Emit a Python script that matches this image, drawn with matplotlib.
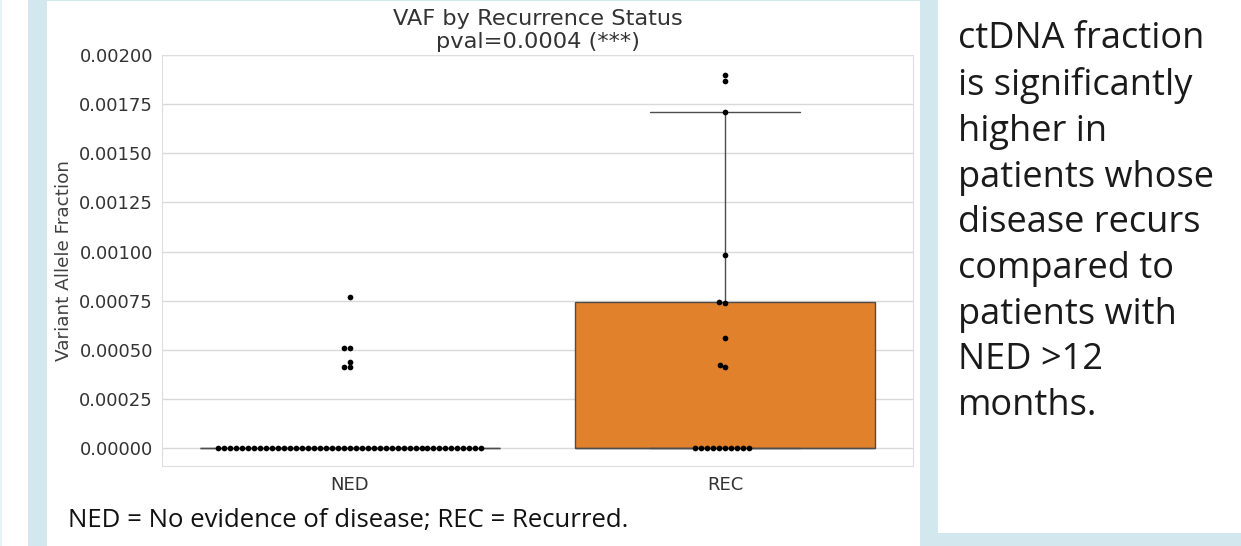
import matplotlib
matplotlib.use("Agg")
import matplotlib.pyplot as plt
from matplotlib.patches import Rectangle
from matplotlib.ticker import FormatStrFormatter, MultipleLocator
import numpy as np
import pandas as pd
import seaborn as sns

# values
groups = ["NED", "REC"]
ned_vaf = [
    0.0, 0.0, 0.0, 0.0, 0.0, 0.0, 0.0, 0.0, 0.0, 0.0, 0.0, 0.0,
    0.0, 0.0, 0.0, 0.0, 0.0, 0.0, 0.0, 0.0, 0.0, 0.0, 0.0, 0.0,
    0.0, 0.0, 0.0, 0.0, 0.0, 0.0, 0.0, 0.0, 0.0, 0.0, 0.0, 0.0,
    0.0, 0.0, 0.0, 0.0, 0.0, 0.0, 0.0, 0.0, 0.0,
    0.00041, 0.00041, 0.00044, 0.00051, 0.00051, 0.00077,
]
rec_vaf = [
    0.0, 0.0, 0.0, 0.0, 0.0, 0.0, 0.0, 0.0, 0.0, 0.0,
    0.00041, 0.00042, 0.00056, 0.00074, 0.000745, 0.00098,
    0.00171, 0.00187, 0.00190,
]
box_colors = ["#3274a1", "#e1812c"]
title = "VAF by Recurrence Status\npval=0.0004 (***)"
ylabel = "Variant Allele Fraction"
footnote = "NED = No evidence of disease; REC = Recurred."
side_text = ("ctDNA fraction\nis significantly\nhigher in\npatients whose\n"
             "disease recurs\ncompared to\npatients with\nNED >12\nmonths.")

df = pd.DataFrame({
    "status": ["NED"] * len(ned_vaf) + ["REC"] * len(rec_vaf),
    "vaf": ned_vaf + rec_vaf,
})

sns.set_style("whitegrid")
plt.rcParams["font.family"] = ["DejaVu Sans"]

W, H = 1241, 546
fig = plt.figure(figsize=(W / 100, H / 100), dpi=100)
blue = "#d3e8ee"


def panel(x0, y0, x1, y1, color):
    # pixel box (top-left origin) -> figure fraction
    fig.add_artist(Rectangle((x0 / W, 1 - y1 / H), (x1 - x0) / W, (y1 - y0) / H,
                             transform=fig.transFigure, facecolor=color,
                             edgecolor="none", zorder=-10))


panel(0, 0, 2, H, "#e6f2f5")
panel(28, 0, W, H, blue)
panel(47, 1, 920, H, "white")
panel(938, 0, W, 533, "white")

ax = fig.add_axes([162 / W, 1 - 466 / H, 751 / W, 411 / H])
ax.set_facecolor("white")

sns.boxplot(data=df, x="status", y="vaf", hue="status", order=groups,
            palette=box_colors, saturation=1, width=0.8, showfliers=False,
            linecolor="0.3", linewidth=1, legend=False, ax=ax)
sns.swarmplot(data=df, x="status", y="vaf", order=groups, color="black",
              size=4.1, ax=ax)

ax.set_ylim(-0.0000916, 0.002)
ax.set_xlim(-0.5, 1.5)
ax.yaxis.set_major_locator(MultipleLocator(0.00025))
ax.yaxis.set_major_formatter(FormatStrFormatter("%.5f"))
ax.xaxis.grid(False)
ax.yaxis.grid(True, color="0.85", linewidth=1)
for s in ax.spines.values():
    s.set_color("0.87")
ax.tick_params(axis="y", length=0, pad=6.5, labelsize=13, labelcolor="0.2")
ax.tick_params(axis="x", length=0, pad=7, labelsize=13, labelcolor="0.2")
ax.set_xlabel("")
ax.set_ylabel(ylabel, fontsize=13.2, color="0.25")
ax.yaxis.set_label_coords(-0.119, 0.5)
ax.set_title(title, fontsize=16.2, color="0.2", pad=5, linespacing=1.2)

fig.text(68 / W, 1 - 521 / H, footnote, fontsize=18.5, family="Open Sans",
         color="#111111", va="center", ha="left")
fig.text(958 / W, 1 - 21 / H, side_text, fontsize=26, family="Open Sans",
         color="#1a1a1a", va="top", ha="left", linespacing=1.36)

fig.savefig("out.png", dpi=100)
